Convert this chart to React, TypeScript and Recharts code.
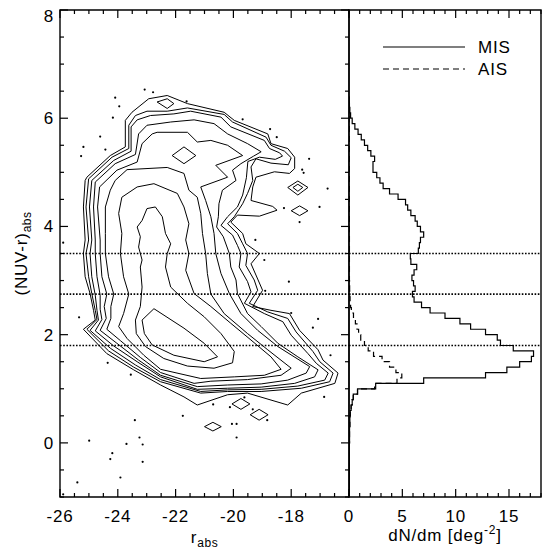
import { ScatterChart, Scatter, ComposedChart, Line, XAxis, YAxis, ReferenceLine, ReferenceArea, Legend } from 'recharts';

const FONT = '"Liberation Sans", Arial, Helvetica, sans-serif';

// axis ranges, tick labels, colour cuts
const magDomain = [-26, -16];
const colourDomain = [-1, 8];
const densityDomain = [0, 18];
const magLabels = [-26, -24, -22, -20, -18];
const colourLabels = [0, 2, 4, 6, 8];
const densityLabels = [0, 5, 10, 15];
const colourCuts = [3.5, 2.75, 1.8];

// contour levels of the colour-magnitude diagram, outermost first: [r_abs, (NUV-r)_abs]
const level1 = [[-22.29, 6.42], [-21.59, 6.27], [-20.32, 6.11], [-19.97, 5.96], [-18.81, 5.71], [-18.7, 5.53], [-18.12, 5.44], [-17.88, 5.28], [-17.88, 5.07], [-18.06, 4.98], [-18.58, 5.01], [-19.22, 4.91], [-19.33, 4.73], [-19.39, 4.48], [-18.64, 4.37], [-18.49, 4.3], [-19.1, 4.19], [-19.86, 4.21], [-20.09, 4.08], [-19.68, 3.87], [-19.57, 3.68], [-19.1, 3.5], [-19.39, 3.31], [-18.99, 2.82], [-19.33, 2.52], [-18.7, 2.45], [-18.06, 2.39], [-17.71, 2.08], [-17.07, 1.72], [-16.9, 1.53], [-16.38, 1.29], [-16.49, 1.1], [-17.65, 0.92], [-18.12, 0.7], [-19.51, 0.92], [-20.2, 0.89], [-21.25, 0.7], [-21.71, 0.85], [-22.52, 1.07], [-23.45, 1.35], [-24.38, 1.65], [-25.19, 2.1], [-24.78, 2.27], [-24.84, 2.45], [-24.96, 2.76], [-25.13, 3.07], [-25.19, 3.5], [-25.13, 3.75], [-25.19, 4.36], [-25.13, 4.85], [-25.07, 4.91], [-24.26, 5.31], [-23.74, 5.47], [-23.74, 5.96], [-23.51, 6.11], [-22.93, 6.36]];
const level2 = [[-25.01, 4.88], [-24.2, 5.28], [-23.62, 5.44], [-23.62, 5.87], [-23.39, 6.05], [-22.99, 6.13], [-22.29, 6.13], [-21.59, 6.19], [-20.32, 6.07], [-20.03, 5.93], [-18.87, 5.65], [-18.7, 5.5], [-18.23, 5.39], [-18.0, 5.27], [-18.1, 5.14], [-18.7, 5.17], [-19.22, 5.25], [-19.39, 5.1], [-19.33, 4.85], [-19.51, 4.61], [-19.68, 4.42], [-19.97, 4.18], [-20.2, 4.05], [-19.86, 3.87], [-19.68, 3.68], [-19.51, 3.5], [-19.57, 3.28], [-19.28, 3.01], [-19.16, 2.82], [-19.45, 2.58], [-18.81, 2.42], [-18.12, 2.3], [-17.83, 2.05], [-17.25, 1.69], [-17.01, 1.5], [-16.55, 1.29], [-16.67, 1.13], [-17.65, 1.01], [-19.04, 0.95], [-20.2, 0.95], [-21.13, 0.92], [-22.52, 1.13], [-23.45, 1.4], [-24.32, 1.7], [-25.07, 2.1], [-24.72, 2.28], [-24.78, 2.45], [-24.9, 2.76], [-25.01, 3.07], [-25.1, 3.5], [-25.01, 3.75], [-25.1, 4.36]];
const level3 = [[-24.9, 4.85], [-24.14, 5.22], [-23.54, 5.39], [-23.54, 5.84], [-23.33, 5.97], [-22.87, 6.05], [-22.06, 6.08], [-21.48, 6.13], [-20.43, 6.02], [-20.09, 5.84], [-18.93, 5.59], [-18.75, 5.44], [-18.4, 5.36], [-18.3, 5.3], [-18.55, 5.24], [-19.1, 5.28], [-19.5, 5.2], [-19.55, 4.9], [-19.68, 4.58], [-19.86, 4.36], [-20.2, 4.18], [-20.43, 4.02], [-20.03, 3.84], [-19.86, 3.65], [-19.74, 3.5], [-19.8, 3.25], [-19.51, 2.98], [-19.39, 2.79], [-19.62, 2.58], [-18.93, 2.39], [-18.29, 2.24], [-18.0, 1.99], [-17.42, 1.65], [-17.13, 1.47], [-16.72, 1.29], [-16.84, 1.16], [-17.77, 1.05], [-19.04, 0.99], [-20.2, 0.98], [-21.13, 0.95], [-22.52, 1.17], [-23.39, 1.44], [-24.26, 1.75], [-24.96, 2.08], [-24.67, 2.27], [-24.72, 2.45], [-24.78, 2.73], [-24.9, 3.07], [-24.96, 3.5], [-24.9, 3.75], [-24.98, 4.36]];
const level4 = [[-24.78, 4.82], [-24.09, 5.16], [-23.39, 5.33], [-23.28, 5.71], [-22.99, 5.87], [-22.17, 5.93], [-21.36, 5.97], [-20.67, 5.9], [-20.2, 5.71], [-19.51, 5.53], [-19.04, 5.38], [-19.3, 5.3], [-19.74, 5.16], [-20.03, 5.04], [-19.91, 4.85], [-20.38, 4.67], [-20.5, 4.42], [-20.52, 4.18], [-20.58, 3.99], [-20.35, 3.81], [-20.14, 3.5], [-20.09, 3.25], [-19.91, 3.01], [-19.86, 2.76], [-19.51, 2.39], [-19.04, 2.15], [-18.46, 1.84], [-17.77, 1.59], [-17.07, 1.35], [-17.19, 1.22], [-17.88, 1.1], [-19.04, 1.03], [-20.2, 1.01], [-21.25, 0.99], [-22.52, 1.22], [-23.33, 1.5], [-24.14, 1.79], [-24.78, 2.07], [-24.55, 2.28], [-24.61, 2.47], [-24.61, 2.73], [-24.72, 3.07], [-24.78, 3.5], [-24.78, 3.75], [-24.84, 4.36]];
const level5 = [[-24.63, 4.73], [-24.03, 5.04], [-23.33, 5.19], [-23.16, 5.53], [-22.81, 5.71], [-22.64, 5.74], [-21.59, 5.74], [-21.25, 5.56], [-20.78, 5.59], [-20.2, 5.5], [-19.68, 5.31], [-20.61, 5.13], [-20.2, 4.91], [-21.13, 4.73], [-20.96, 4.48], [-20.78, 4.18], [-20.67, 3.87], [-20.61, 3.5], [-20.43, 3.13], [-20.14, 2.76], [-19.74, 2.39], [-19.16, 2.08], [-18.46, 1.78], [-17.36, 1.41], [-17.48, 1.29], [-18.12, 1.16], [-19.04, 1.09], [-20.2, 1.07], [-21.25, 1.04], [-22.52, 1.25], [-23.28, 1.53], [-24.03, 1.84], [-24.61, 2.08], [-24.4, 2.3], [-24.47, 2.52], [-24.38, 2.75], [-24.55, 3.07], [-24.61, 3.5], [-24.61, 3.75], [-24.7, 4.36]];
const level6 = [[-24.43, 4.36], [-24.26, 4.67], [-24.09, 4.85], [-23.68, 5.05], [-22.29, 5.09], [-21.71, 4.98], [-21.54, 4.67], [-21.25, 4.54], [-21.13, 4.24], [-21.07, 3.87], [-20.96, 3.5], [-20.9, 3.13], [-20.78, 2.75], [-20.32, 2.39], [-19.51, 2.02], [-18.81, 1.72], [-18.0, 1.38], [-18.35, 1.25], [-19.51, 1.17], [-20.78, 1.14], [-21.36, 1.1], [-22.52, 1.3], [-23.22, 1.58], [-23.91, 1.89], [-24.38, 2.1], [-24.24, 2.3], [-24.24, 2.52], [-24.14, 2.75], [-24.32, 3.07], [-24.43, 3.5], [-24.43, 3.87]];
const level7 = [[-23.86, 4.54], [-23.33, 4.73], [-22.75, 4.79], [-21.94, 4.61], [-21.71, 4.36], [-21.54, 4.05], [-21.65, 3.75], [-21.54, 3.5], [-21.65, 3.19], [-21.36, 2.76], [-20.78, 2.52], [-20.09, 2.21], [-19.39, 1.9], [-18.7, 1.59], [-18.35, 1.36], [-18.93, 1.25], [-19.97, 1.22], [-21.13, 1.19], [-22.52, 1.36], [-23.1, 1.62], [-23.68, 1.93], [-23.97, 2.15], [-23.8, 2.39], [-23.62, 2.75], [-23.8, 3.07], [-23.91, 3.5], [-23.86, 3.87], [-23.97, 4.24]];
const level8 = [[-22.99, 4.33], [-22.7, 4.36], [-22.46, 4.18], [-22.35, 3.87], [-22.17, 3.68], [-22.29, 3.5], [-22.35, 3.25], [-22.17, 2.88], [-21.59, 2.58], [-21.01, 2.33], [-20.43, 2.02], [-19.97, 1.69], [-20.03, 1.48], [-20.67, 1.38], [-21.59, 1.42], [-22.41, 1.56], [-23.04, 1.78], [-23.36, 2.02], [-23.39, 2.27], [-23.22, 2.52], [-23.16, 2.88], [-23.22, 3.25], [-23.16, 3.38], [-23.28, 3.62], [-23.22, 3.81], [-23.33, 3.99], [-23.16, 4.11]];
const level9 = [[-22.75, 2.48], [-21.71, 2.12], [-21.01, 1.84], [-20.55, 1.59], [-21.01, 1.5], [-22.06, 1.62], [-22.81, 1.81], [-23.08, 2.02], [-23.16, 2.27]];
const islands = [
  [[-22.64, 6.3], [-22.29, 6.36], [-22.06, 6.27], [-22.29, 6.18]],
  [[-22.12, 5.31], [-21.71, 5.47], [-21.3, 5.31], [-21.71, 5.16]],
  [[-18.12, 4.72], [-17.77, 4.84], [-17.42, 4.72], [-17.77, 4.58]],
  [[-17.94, 4.72], [-17.77, 4.78], [-17.6, 4.72], [-17.77, 4.65]],
  [[-18.0, 4.29], [-17.71, 4.38], [-17.42, 4.29], [-17.71, 4.2]],
  [[-20.05, 0.72], [-19.74, 0.82], [-19.43, 0.72], [-19.74, 0.62]],
  [[-19.42, 0.52], [-19.11, 0.62], [-18.8, 0.52], [-19.11, 0.42]],
  [[-21.0, 0.3], [-20.71, 0.38], [-20.42, 0.3], [-20.71, 0.22]],
];

// single galaxies outside the lowest contour
const outliers = [[-23.07, 6.53], [-22.78, 6.48], [-24.09, 6.38], [-23.95, 6.22], [-24.17, 6.01], [-24.61, 5.66], [-25.19, 5.47], [-25.27, 5.3], [-24.43, 5.42], [-21.62, 6.31], [-25.89, 3.7], [-19.68, 5.98], [-18.73, 5.8], [-18.5, 5.65], [-17.38, 5.25], [-17.62, 5.05], [-17.57, 4.99], [-16.74, 4.7], [-17.02, 4.36], [-18.25, 4.34], [-17.71, 4.08], [-19.24, 3.75], [-25.34, 2.32], [-24.35, 1.48], [-23.55, 1.26], [-23.41, 0.42], [-21.75, 0.5], [-23.25, 0.1], [-24.99, 0.04], [-23.7, -0.02], [-23.14, -0.03], [-24.19, -0.19], [-24.26, -0.3], [-23.14, -0.35], [-23.91, -0.64], [-25.4, -0.73], [-25.89, -0.95], [-18.93, 3.38], [-18.08, 2.98], [-18.9, 2.81], [-18.0, 2.4], [-17.07, 2.29], [-17.25, 2.13], [-16.64, 1.62], [-16.86, 0.85], [-20.7, 0.71], [-20.12, 0.66], [-19.62, 0.84], [-19.33, 0.62], [-18.83, 0.42], [-20.05, 0.35], [-19.89, 0.35], [-19.89, 0.1]];

// colour histograms: upper edge of each bin and dN/dm in it
const binTop = [-1.0, 0.0, 0.3, 0.5, 0.6, 0.7, 0.8, 0.9, 1.0, 1.1, 1.2, 1.3, 1.4, 1.5, 1.6, 1.7, 1.8, 1.9, 2.0, 2.1, 2.2, 2.3, 2.4, 2.5, 2.6, 2.7, 2.8, 2.9, 3.0, 3.1, 3.2, 3.3, 3.4, 3.5, 3.6, 3.7, 3.8, 3.9, 4.0, 4.1, 4.2, 4.3, 4.4, 4.5, 4.6, 4.7, 4.8, 4.9, 5.0, 5.1, 5.2, 5.3, 5.4, 5.5, 5.6, 5.7, 5.8, 5.9, 6.0, 6.1, 6.2, 6.3, 6.4];
const misDensity = [0.02, 0.03, 0.05, 0.08, 0.12, 0.2, 0.3, 0.4, 0.8, 2.5, 7.0, 12.8, 14.8, 16.0, 17.1, 17.3, 15.4, 14.2, 13.9, 12.8, 11.4, 10.4, 9.0, 7.6, 6.8, 6.1, 5.95, 6.2, 6.05, 5.9, 6.1, 6.35, 5.8, 5.75, 6.5, 6.6, 6.7, 7.0, 6.7, 6.4, 6.2, 5.8, 5.5, 5.3, 4.6, 3.8, 3.2, 2.9, 2.6, 2.25, 2.25, 2.4, 2.05, 1.75, 1.45, 1.15, 0.85, 0.55, 0.3, 0.15, 0.08, 0.04, 0];
const aisDensity = [0.02, 0.03, 0.05, 0.08, 0.12, 0.2, 0.3, 0.4, 0.8, 2.4, 4.5, 4.95, 4.4, 3.8, 3.1, 2.3, 1.8, 1.45, 1.1, 0.9, 0.75, 0.6, 0.42, 0.22, 0.15, 0.1, 0.08, 0.06, 0.05, 0.04, 0.04, 0.04, 0.04, 0.04, 0.04, 0.04, 0.04, 0.04, 0.03, 0.03, 0.03, 0.03, 0.03, 0.03, 0.03, 0.03, 0.03, 0.03, 0.03, 0.03, 0.03, 0.03, 0.03, 0.03, 0.03, 0.03, 0.03, 0.03, 0.02, 0.02, 0.01, 0.01, 0];

const legendItems = [
  { name: 'MIS', dash: undefined },
  { name: 'AIS', dash: '6 4' },
];

const histogram = binTop.map((y, i) => ({ y, mis: misDensity[i], ais: aisDensity[i] }));
const ring = (pts: number[][]) => [...pts, pts[0]].map(([x, y]) => ({ x, y }));
const contours = [level1, level2, level3, level4, level5, level6, level7, level8, level9, ...islands].map(ring);
const outlierPts = outliers.map(([x, y]) => ({ x, y }));

const steps = (from: number, to: number, step: number) =>
  Array.from({ length: Math.round((to - from) / step) + 1 }, (_, i) => from + i * step);

// plot boxes (left chart svg starts at page x 0, right chart svg at page x 300)
const LEFT_BOX = { x0: 60, x1: 349, top: 10, bottom: 497 };
const RIGHT_BOX = { x0: 49, x1: 241, top: 10, bottom: 497 };

const textStyle = { fontFamily: FONT, fontSize: 17, letterSpacing: 0.8, fill: '#000' };

function xTick(box: typeof LEFT_BOX, labels: number[]) {
  return function XTick(props: any) {
    const { x, payload } = props;
    const major = labels.includes(payload.value);
    const len = major ? 8 : 4;
    return (
      <g>
        <line x1={x} x2={x} y1={box.bottom} y2={box.bottom - len} stroke="#000" strokeWidth={1.2} />
        <line x1={x} x2={x} y1={box.top} y2={box.top + len} stroke="#000" strokeWidth={1.2} />
        {major && (
          <text x={x} y={box.bottom + 25} textAnchor="middle" style={textStyle}>
            {payload.value}
          </text>
        )}
      </g>
    );
  };
}

function yTick(box: typeof LEFT_BOX, labels: number[]) {
  return function YTick(props: any) {
    const { y, payload } = props;
    const major = labels.includes(payload.value);
    const len = major ? 8 : 4;
    return (
      <g>
        <line x1={box.x0} x2={box.x0 + len} y1={y} y2={y} stroke="#000" strokeWidth={1.2} />
        <line x1={box.x1} x2={box.x1 - len} y1={y} y2={y} stroke="#000" strokeWidth={1.2} />
        {major && (
          <text x={box.x0 - 6} y={Math.max(y, box.top + 5.5) + 6} textAnchor="end" style={textStyle}>
            {payload.value}
          </text>
        )}
      </g>
    );
  };
}

const NoMark = () => <g />;
const GalaxyDot = (p: any) => <circle cx={p.cx} cy={p.cy} r={1.1} fill="#000" />;

function MagTitle(props: any) {
  const { x, y, width } = props.viewBox;
  return (
    <text x={x + width / 2} y={y + 46} textAnchor="middle" style={textStyle}>
      r<tspan dy={4} fontSize={12} letterSpacing={0.5}>abs</tspan>
    </text>
  );
}

function ColourTitle(props: any) {
  const { y, height } = props.viewBox;
  const cx = 27;
  const cy = y + height / 2;
  return (
    <text x={cx} y={cy} textAnchor="middle" transform={`rotate(-90 ${cx} ${cy})`} style={textStyle}>
      (NUV-r)<tspan dy={4} fontSize={12} letterSpacing={0.5}>abs</tspan>
    </text>
  );
}

function DensityTitle(props: any) {
  const { x, y, width } = props.viewBox;
  return (
    <text x={x + width / 2} y={y + 44} textAnchor="middle" style={textStyle}>
      dN/dm [deg<tspan dy={-7} fontSize={12}>-2</tspan>
      <tspan dy={7}>]</tspan>
    </text>
  );
}

function LegendBox() {
  return (
    <svg width={150} height={46}>
      {legendItems.map((it, i) => (
        <g key={it.name}>
          <line x1={3} x2={85} y1={11 + i * 22} y2={11 + i * 22} stroke="#000" strokeWidth={1.2} strokeDasharray={it.dash} />
          <text x={98} y={17 + i * 22} style={textStyle}>
            {it.name}
          </text>
        </g>
      ))}
    </svg>
  );
}

export default function App() {
  return (
    <div style={{ position: 'absolute', left: 0, top: 0, width: 551, height: 549, background: '#fff' }}>
      <div style={{ position: 'absolute', left: 0, top: 0 }}>
        <ScatterChart width={352} height={549} margin={{ top: 10, right: 3, bottom: 0, left: 0 }}>
          <XAxis
            type="number"
            dataKey="x"
            domain={magDomain}
            ticks={steps(-26, -16, 0.5)}
            interval={0}
            height={52}
            axisLine={false}
            tickLine={false}
            tick={xTick(LEFT_BOX, magLabels)}
            allowDataOverflow
            label={{ content: MagTitle }}
          />
          <YAxis
            type="number"
            dataKey="y"
            domain={colourDomain}
            ticks={steps(-1, 8, 0.5)}
            interval={0}
            width={60}
            axisLine={false}
            tickLine={false}
            tick={yTick(LEFT_BOX, colourLabels)}
            allowDataOverflow
            label={{ content: ColourTitle }}
          />
          {contours.map((c, i) => (
            <Scatter
              key={i}
              data={c}
              line={{ stroke: '#000', strokeWidth: 1 }}
              lineType="joint"
              shape={NoMark}
              isAnimationActive={false}
            />
          ))}
          <Scatter data={outlierPts} shape={GalaxyDot} isAnimationActive={false} />
          {colourCuts.map((c) => (
            <ReferenceLine key={c} y={c} stroke="#000" strokeWidth={1.6} strokeDasharray="1.6 1.6" />
          ))}
          <ReferenceArea x1={-26} x2={-16} y1={-1} y2={8} fill="none" stroke="#000" strokeWidth={1.4} />
        </ScatterChart>
      </div>
      <div style={{ position: 'absolute', left: 300, top: 0 }}>
        <ComposedChart
          layout="vertical"
          width={251}
          height={549}
          data={histogram}
          margin={{ top: 10, right: 10, bottom: 0, left: 49 }}
        >
          <XAxis
            type="number"
            domain={densityDomain}
            ticks={steps(0, 18, 1)}
            interval={0}
            height={52}
            axisLine={false}
            tickLine={false}
            tick={xTick(RIGHT_BOX, densityLabels)}
            allowDataOverflow
            label={{ content: DensityTitle }}
          />
          <YAxis
            type="number"
            dataKey="y"
            domain={colourDomain}
            reversed
            ticks={steps(-1, 8, 0.5)}
            interval={0}
            width={0}
            axisLine={false}
            tickLine={false}
            tick={yTick(RIGHT_BOX, [])}
            allowDataOverflow
          />
          <Legend
            layout="horizontal"
            verticalAlign="middle"
            align="center"
            wrapperStyle={{ position: 'absolute', left: 80, top: 36, width: 150, height: 46 }}
            content={LegendBox}
          />
          {colourCuts.map((c) => (
            <ReferenceLine key={c} y={c} stroke="#000" strokeWidth={1.6} strokeDasharray="1.6 1.6" />
          ))}
          <Line dataKey="ais" name="AIS" type="stepAfter" stroke="#000" strokeWidth={1.2} strokeDasharray="6 4" dot={false} isAnimationActive={false} />
          <Line dataKey="mis" name="MIS" type="stepAfter" stroke="#000" strokeWidth={1.2} dot={false} isAnimationActive={false} />
          <ReferenceArea x1={0} x2={18} y1={-1} y2={8} fill="none" stroke="#000" strokeWidth={1.4} />
        </ComposedChart>
      </div>
    </div>
  );
}
